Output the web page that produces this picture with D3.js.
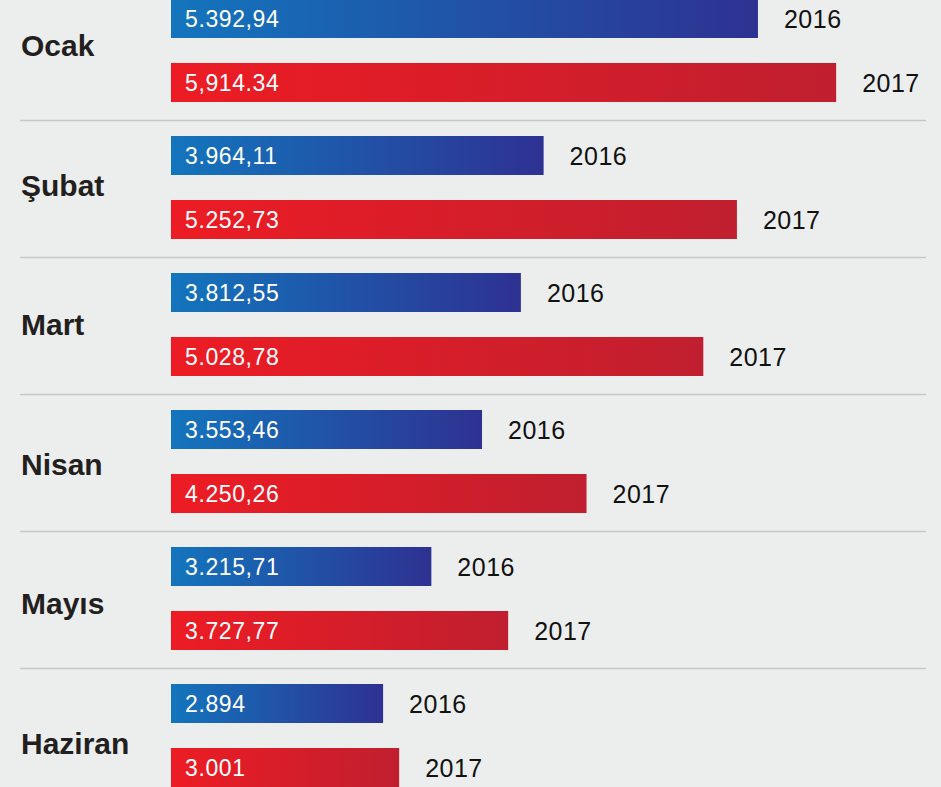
<!DOCTYPE html>
<html><head><meta charset="utf-8">
<script src="https://cdn.jsdelivr.net/npm/d3@7"></script>
<style>
html,body{margin:0;padding:0;background:#eceeed;overflow:hidden;}
svg{display:block;}
</style></head>
<body>
<svg id="chart" width="941" height="787"></svg>
<script>
const months = ["Ocak", "Şubat", "Mart", "Nisan", "Mayıs", "Haziran"];
const years = ["2016", "2017"];
const values2016 = [5392.94, 3964.11, 3812.55, 3553.46, 3215.71, 2894];
const values2017 = [5914.34, 5252.73, 5028.78, 4250.26, 3727.77, 3001];
const labels2016 = ["5.392,94", "3.964,11", "3.812,55", "3.553,46", "3.215,71", "2.894"];
const labels2017 = ["5,914.34", "5.252,73", "5.028,78", "4.250,26", "3.727,77", "3.001"];

const svg = d3.select("#chart");
const W = 941, H = 787;
svg.append("rect").attr("width", W).attr("height", H).attr("fill", "#eceeed");

const defs = svg.append("defs");
function grad(id, c0, c1) {
  const g = defs.append("linearGradient").attr("id", id)
    .attr("x1", "0%").attr("x2", "100%").attr("y1", "0%").attr("y2", "0%");
  g.append("stop").attr("offset", "0%").attr("stop-color", c0);
  g.append("stop").attr("offset", "100%").attr("stop-color", c1);
}
grad("g2016", "#1375bd", "#2e3192");
grad("g2017", "#ed1c24", "#c01f2f");

const x = d3.scaleLinear().domain([1480, 6000]).range([171, 849]);
const row = d3.scaleBand().domain(months).range([-1, -1 + 137 * months.length]);
const labelRow = d3.scaleBand().domain(months).range([56.4, 56.4 + 139.5 * months.length]);
const barH = 39, offset2017 = 64;

const rows = months.map((m, i) => ({
  month: m,
  series: [
    {year: years[0], value: values2016[i], label: labels2016[i], dy: 0, fill: "url(#g2016)"},
    {year: years[1], value: values2017[i], label: labels2017[i], dy: offset2017, fill: "url(#g2017)"}
  ]
}));

// month labels
svg.selectAll("text.month").data(months).join("text").attr("class", "month")
  .attr("x", 21).attr("y", d => labelRow(d))
  .attr("font-family", "'Liberation Sans', Arial, Helvetica, sans-serif")
  .attr("font-weight", "bold").attr("font-size", 30).attr("fill", "#231f20")
  .text(d => d);

const g = svg.selectAll("g.row").data(rows).join("g").attr("class", "row")
  .attr("transform", d => `translate(0,${row(d.month)})`);

// separators
g.filter((d, i) => i < months.length - 1).append("line")
  .attr("x1", 20).attr("x2", 926).attr("y1", 121.5).attr("y2", 121.5)
  .attr("stroke", "#c6c7c7").attr("stroke-width", 1.3);

const bars = g.selectAll("g.bar").data(d => d.series).join("g").attr("class", "bar")
  .attr("transform", d => `translate(0,${d.dy})`);

bars.append("rect")
  .attr("x", x.range()[0]).attr("y", 0)
  .attr("width", d => x(d.value) - x.range()[0]).attr("height", barH)
  .attr("fill", d => d.fill);

bars.append("text")
  .attr("x", x.range()[0] + 14).attr("y", barH / 2 + 8.2)
  .attr("font-family", "'Liberation Sans', Arial, Helvetica, sans-serif")
  .attr("font-size", 23).attr("letter-spacing", 0.6).attr("fill", "#ffffff")
  .text(d => d.label);

bars.append("text")
  .attr("x", d => x(d.value) + 26).attr("y", barH / 2 + 9)
  .attr("font-family", "'Liberation Sans', Arial, Helvetica, sans-serif")
  .attr("font-size", 25).attr("letter-spacing", 0.5).attr("fill", "#111111")
  .text(d => d.year);
</script>
</body></html>
